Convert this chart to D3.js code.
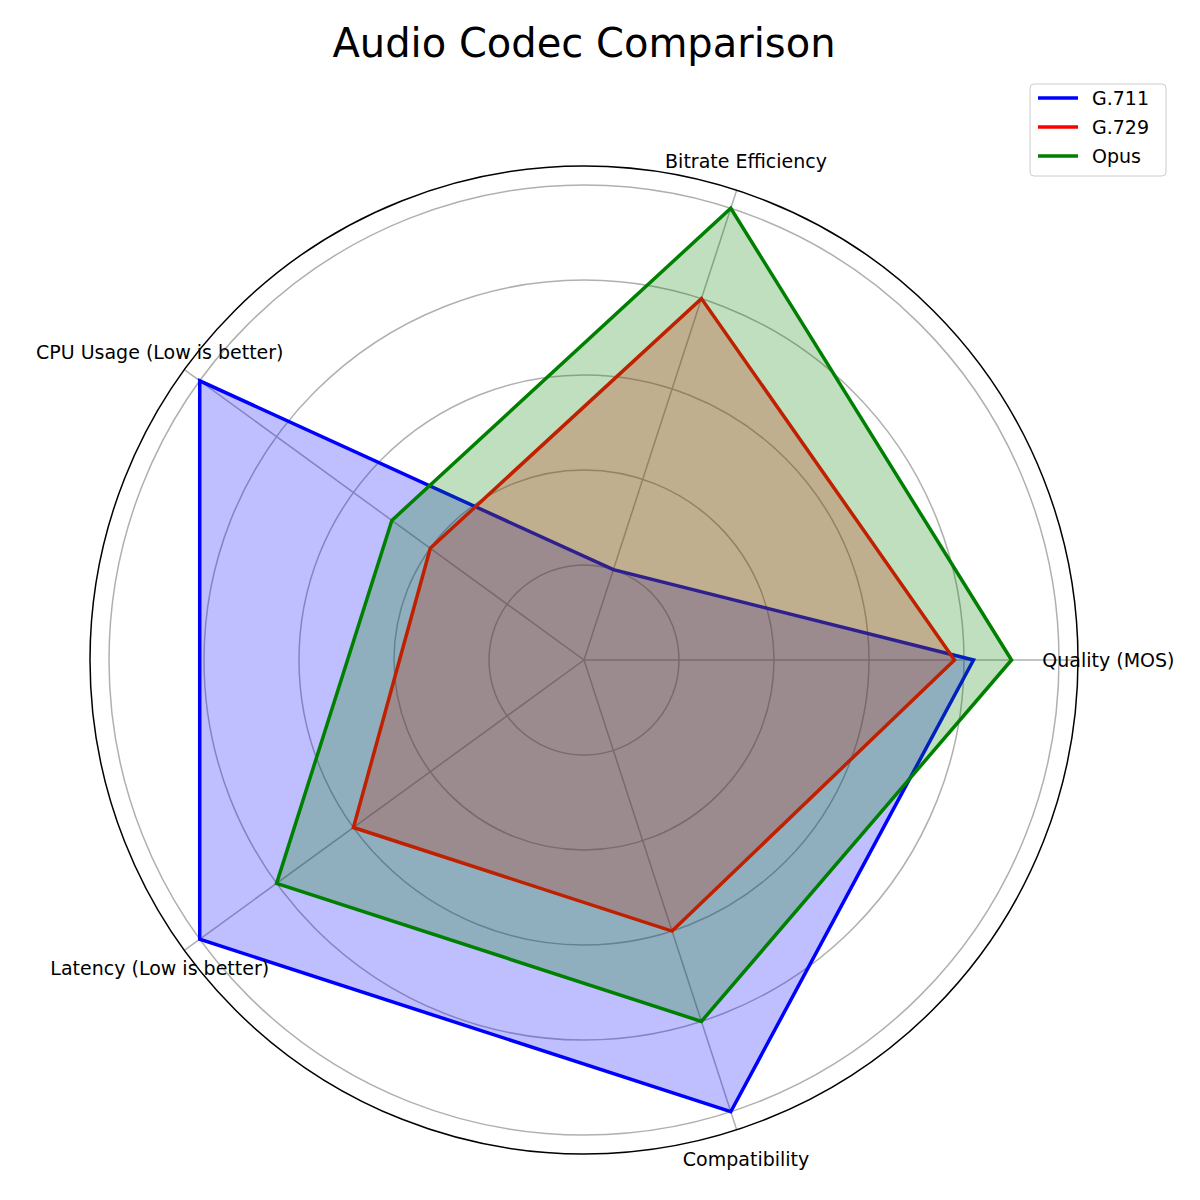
<!DOCTYPE html>
<html><head><meta charset="utf-8">
<script src="https://cdn.jsdelivr.net/npm/d3@7"></script>
<style>body{margin:0;background:#fff;font-family:"DejaVu Sans",sans-serif;}</style>
</head><body>
<script>
var categories = ["Quality (MOS)", "Bitrate Efficiency", "CPU Usage (Low is better)", "Latency (Low is better)", "Compatibility"];
var seriesNames = ["G.711", "G.729", "Opus"];
var seriesValues = [
  [4.1, 1.0, 5.0, 5.0, 5.0],
  [3.9, 4.0, 2.0, 3.0, 3.0],
  [4.5, 5.0, 2.5, 4.0, 4.0]
];
var colors = ["blue", "red", "green"];
var gridTicks = [1, 2, 3, 4, 5];

var cx = 584, cy = 660;
var svg = d3.select("body").append("svg").attr("width", 1200).attr("height", 1200);
var r = d3.scaleLinear().domain([0, 5.2]).range([0, 494]);
var ang = d3.scaleLinear().domain([0, categories.length]).range([0, 2 * Math.PI]);
function pt(i, v) {
  var a = ang(i);
  return [cx + r(v) * Math.cos(a), cy - r(v) * Math.sin(a)];
}

var g = svg.append("g");
g.selectAll("circle.grid").data(gridTicks).enter().append("circle")
  .attr("cx", cx).attr("cy", cy).attr("r", function(d) { return r(d); })
  .attr("fill", "none").attr("stroke", "#b0b0b0").attr("stroke-width", 1.5);
g.selectAll("line.spoke").data(categories).enter().append("line")
  .attr("x1", cx).attr("y1", cy)
  .attr("x2", function(d, i) { return pt(i, 5.2)[0]; })
  .attr("y2", function(d, i) { return pt(i, 5.2)[1]; })
  .attr("stroke", "#b0b0b0").attr("stroke-width", 1.5);

var line = d3.line().curve(d3.curveLinearClosed);
seriesValues.forEach(function(vals, s) {
  var pts = vals.map(function(v, i) { return pt(i, v); });
  g.append("path").attr("d", line(pts)).attr("fill", colors[s]).attr("fill-opacity", 0.25)
    .attr("stroke", colors[s]).attr("stroke-width", 3.5).attr("stroke-linejoin", "miter");
});

g.append("circle").attr("cx", cx).attr("cy", cy).attr("r", r(5.2))
  .attr("fill", "none").attr("stroke", "black").attr("stroke-width", 1.5);

g.selectAll("text.cat").data(categories).enter().append("text")
  .attr("x", function(d, i) { return pt(i, 5.52)[0]; })
  .attr("y", function(d, i) { return pt(i, 5.52)[1]; })
  .attr("text-anchor", "middle").attr("dominant-baseline", "central")
  .attr("font-size", 19).text(function(d) { return d; });

svg.append("text").attr("x", 584).attr("y", 57).attr("text-anchor", "middle")
  .attr("font-size", 40).text("Audio Codec Comparison");

var lg = svg.append("g").attr("transform", "translate(1030,84)");
lg.append("rect").attr("width", 136).attr("height", 92).attr("rx", 4)
  .attr("fill", "white").attr("stroke", "#cccccc");
seriesNames.forEach(function(n, i) {
  var y = 14 + i * 29;
  lg.append("line").attr("x1", 8).attr("x2", 48).attr("y1", y).attr("y2", y)
    .attr("stroke", colors[i]).attr("stroke-width", 3.5);
  lg.append("text").attr("x", 62).attr("y", y).attr("dominant-baseline", "central")
    .attr("font-size", 19).text(n);
});
</script>
</body></html>
